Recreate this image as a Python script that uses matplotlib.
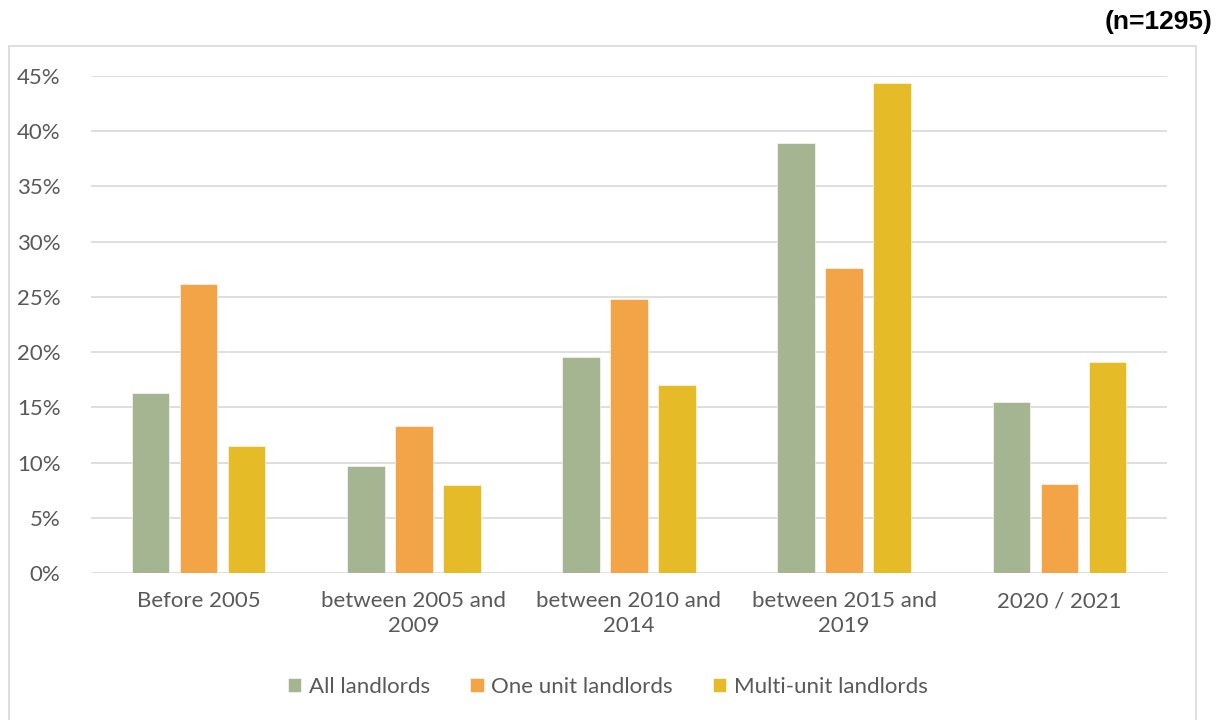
import matplotlib.pyplot as plt
import matplotlib.patches as patches
import numpy as np

categories = ["Before 2005", "between 2005 and\n2009", "between 2010 and\n2014",
              "between 2015 and\n2019", "2020 / 2021"]
all_landlords = [0.163, 0.097, 0.196, 0.389, 0.155]
one_unit = [0.262, 0.133, 0.248, 0.276, 0.081]
multi_unit = [0.115, 0.080, 0.170, 0.444, 0.191]
series_names = ["All landlords", "One unit landlords", "Multi-unit landlords"]
colors = ["#A5B592", "#F3A447", "#E5BB28"]

plt.rcParams['font.family'] = ['Lato', 'DejaVu Sans']
text_color = "#595959"

fig = plt.figure(figsize=(12.25, 7.2), dpi=100)
ax = fig.add_axes([91 / 1225, 1 - 573 / 720, 1076 / 1225, 497 / 720])

# outer chart frame
fig.patches.append(patches.Rectangle((9 / 1225, -0.01), 1187 / 1225, (720 - 46) / 720 + 0.01,
                                     transform=fig.transFigure, fill=False,
                                     edgecolor="#D9D9D9", linewidth=1.2))

x = np.arange(len(categories))
width = 0.175
step = 0.223
for i, (vals, name) in enumerate(zip([all_landlords, one_unit, multi_unit], series_names)):
    ax.bar(x + (i - 1) * step, vals, width, color=colors[i], label=name,
           edgecolor="white", linewidth=0.4, zorder=3)

ax.set_xlim(-0.5, 4.5)
ax.set_ylim(0, 0.45)
ax.set_yticks(np.arange(0, 0.46, 0.05))
ax.set_yticklabels([f"{int(round(v * 100))}%" for v in np.arange(0, 0.46, 0.05)])
ax.set_xticks(x)
ax.set_xticklabels(categories, linespacing=1.3)
ax.grid(axis="y", color="#D9D9D9", linewidth=1.2, zorder=0)
for s in ax.spines.values():
    s.set_visible(False)
ax.tick_params(axis="both", length=0, labelsize=16, colors=text_color)
ax.tick_params(axis="y", pad=22)
ax.tick_params(axis="x", pad=13)

fig.legend(loc="center", bbox_to_anchor=(608 / 1225, 1 - 687 / 720), ncol=3,
           frameon=False, fontsize=16, labelcolor=text_color, handlelength=0.6,
           handleheight=0.6, handletextpad=0.35, columnspacing=1.8)

fig.text(1212 / 1225, 1 - 22 / 720, "(n=1295)", ha="right", va="center",
         fontsize=19, fontweight="bold", family="Liberation Sans")

plt.savefig("out.png", dpi=100)
